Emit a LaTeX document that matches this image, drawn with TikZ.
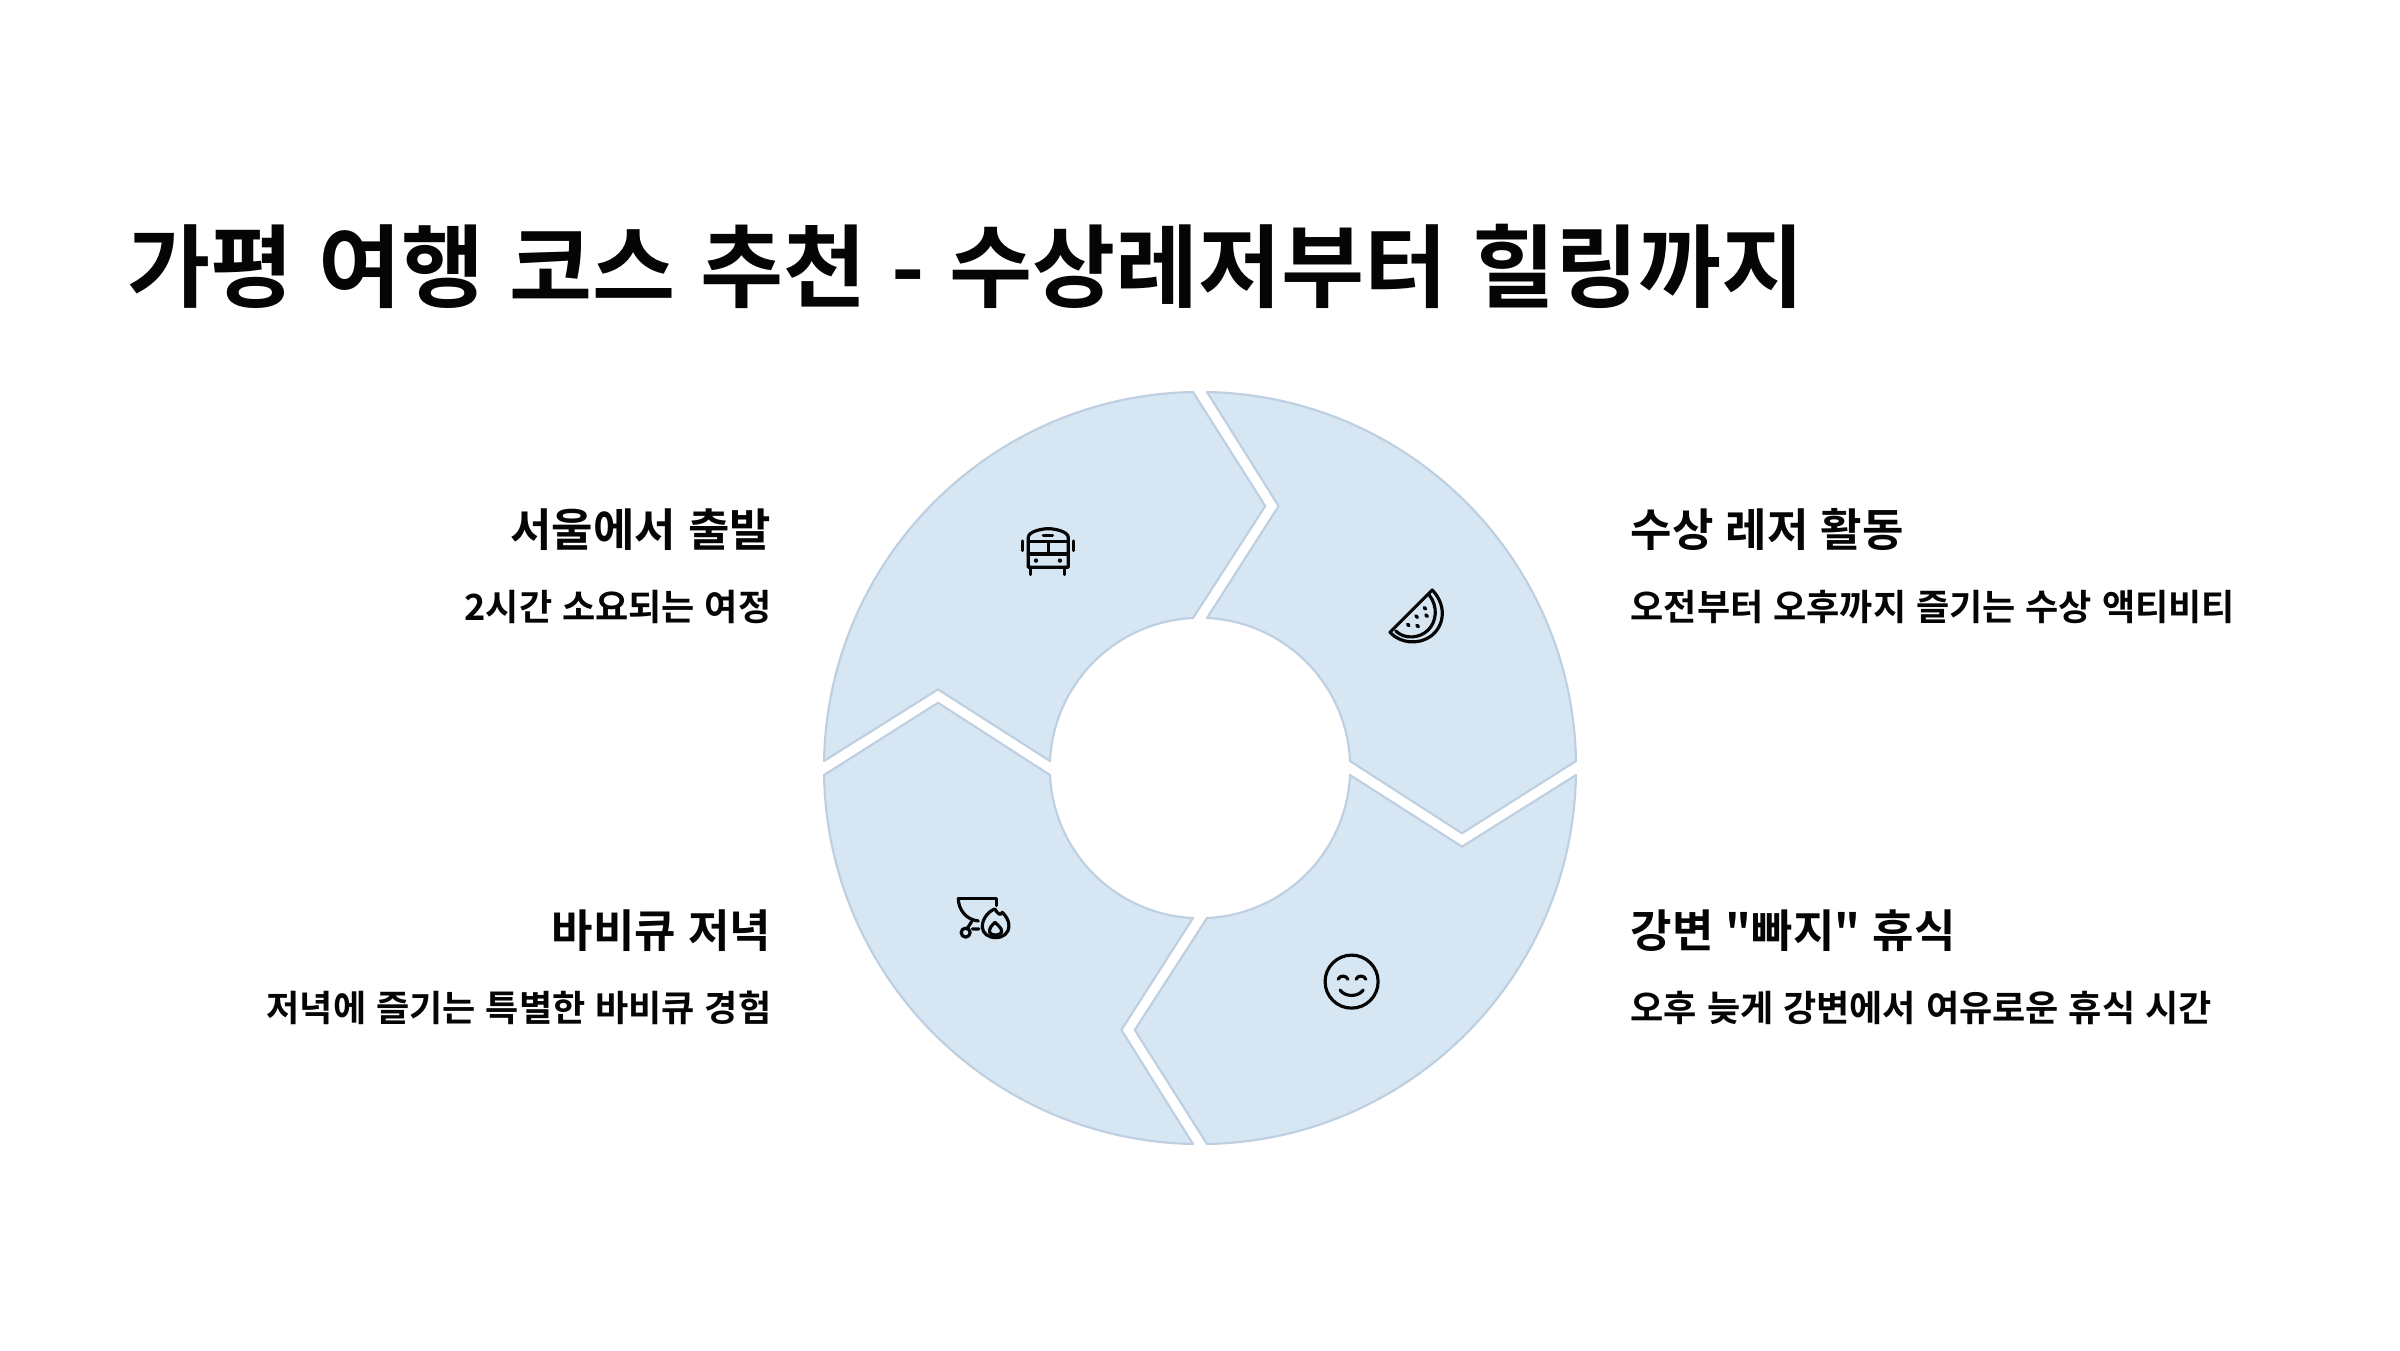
\documentclass[tikz,border=0pt]{standalone}
\usepackage{fontspec}
\setmainfont{Noto Sans CJK KR}[BoldFont={Noto Sans CJK KR Bold},Ligatures=TeXOff,WordSpace=1.2]
\newcommand{\pxfont}[1]{\fontsize{\dimexpr #1\dimexpr 0.2845pt\relax\relax}{\dimexpr #1\dimexpr 0.34pt\relax\relax}\selectfont}
\definecolor{segfill}{HTML}{D6E6F3}
\definecolor{segline}{HTML}{BDCFE0}
\definecolor{ink}{HTML}{050505}
\tikzset{
  seg/.style={fill=segfill,draw=segline,line width=0.6pt,line join=round},
  titletext/.style={font=\bfseries\pxfont{90.3},text=ink,inner sep=0pt,anchor=base west},
  headR/.style={font=\bfseries\pxfont{45},text=ink,inner sep=0pt,anchor=base east},
  headL/.style={font=\bfseries\pxfont{45},text=ink,inner sep=0pt,anchor=base west},
  subR/.style={font=\bfseries\pxfont{36.1},text=ink,inner sep=0pt,anchor=base east},
  subL/.style={font=\bfseries\pxfont{36.1},text=ink,inner sep=0pt,anchor=base west},
  icon/.style={draw=ink,line width=0.9pt,line cap=round,line join=round,fill=none},
  dotk/.style={fill=ink,draw=none}
}
\begin{document}
\begin{tikzpicture}[x=0.01cm,y=0.01cm]
\useasboundingbox (0,0) rectangle (2400,-1350);
\fill[white] (0,0) rectangle (2400,-1350);
\foreach \r in {90,0,-90,-180}{
\begin{scope}[shift={(1200,-768)},rotate=\r]
\draw[seg] (7,376) -- (78.6,262) -- (7,150) arc[start angle=87.33,end angle=2.67,radius=150.16]
  -- (262,-65.3) -- (376,7) arc[start angle=1.07,end angle=88.93,radius=376.07] -- cycle;
\end{scope}}
\node[titletext] (title) at (127,-300) {가평 여행 코스 추천 - 수상레저부터 힐링까지};
\node[headR] (h1) at (772,-546) {서울에서 출발};
\node[subR] (s1) at (772,-620.5) {2시간 소요되는 여정};
\node[headL] (h2) at (1630,-546) {수상 레저 활동};
\node[subL] (s2) at (1630,-620.5) {오전부터 오후까지 즐기는 수상 액티비티};
\node[headR] (h3) at (772,-947) {바비큐 저녁};
\node[subR] (s3) at (772,-1021.5) {저녁에 즐기는 특별한 바비큐 경험};
\node[headL] (h4) at (1630,-947) {강변 "빠지" 휴식};
\node[subL] (s4) at (1630,-1021.5) {오후 늦게 강변에서 여유로운 휴식 시간};
% bus
\begin{scope}[shift={(1000,-510)},x=0.00333cm,y=-0.00333cm]
\draw[icon] (85,172) -- (85,82) .. controls (85,65) and (125,56) .. (145,56) .. controls (165,56) and (205,65) .. (205,82) -- (205,172) -- cycle;
\draw[icon] (85,95) -- (205,95) (85,132) -- (205,132) (145,95) -- (145,132) (130,76) -- (158,76);
\draw[icon] (92,172) -- (92,194) (193,172) -- (193,194) (67,93) -- (67,122) (220,93) -- (220,122);
\fill[dotk] (108,152) circle[radius=0.022cm] (180,152) circle[radius=0.022cm];
\end{scope}
% watermelon
\begin{scope}[shift={(1375,-575)},x=0.00333cm,y=-0.00333cm]
\draw[icon] (45,172) -- (172,45) .. controls (215,90) and (210,150) .. (170,182) .. controls (130,212) and (75,205) .. (45,172) -- cycle;
\draw[icon] (62,168) .. controls (90,195) and (135,190) .. (160,165) .. controls (185,140) and (190,95) .. (163,60);
\foreach \a/\b in {150/100,125/125,155/122,100/150,128/153}{
\draw[icon,line width=1pt] (\a-2,\b-2) -- (\a+2,\b+2);}
\end{scope}
% smile
\begin{scope}[shift={(1310,-940)},x=0.00333cm,y=-0.00333cm]
\draw[icon] (125,125) circle[radius=0.265cm];
\draw[icon] (84,118) .. controls (90,105) and (108,105) .. (114,118);
\draw[icon] (138,118) .. controls (144,105) and (162,105) .. (168,118);
\draw[icon] (90,150) .. controls (105,172) and (145,172) .. (160,150);
\end{scope}
% bbq
\begin{scope}[shift={(945,-885)},x=0.00333cm,y=-0.00333cm]
\draw[icon] (40,40) -- (155,40) -- (155,62);
\draw[icon] (40,40) .. controls (40,75) and (65,105) .. (100,108);
\draw[icon] (80,110) -- (66,132) (82,132) -- (102,132);
\draw[icon] (62,143) circle[radius=0.045cm];
\draw[icon] (150,72) .. controls (132,78) and (112,100) .. (112,125) .. controls (112,145) and (130,158) .. (152,158) .. controls (175,158) and (192,145) .. (192,122) .. controls (192,105) and (182,92) .. (172,82) .. controls (168,92) and (160,90) .. (150,72) -- cycle;
\draw[icon] (150,112) .. controls (140,122) and (132,130) .. (134,142) .. controls (136,152) and (165,154) .. (170,142) .. controls (172,130) and (160,122) .. (150,112) -- cycle;
\end{scope}
\end{tikzpicture}
\end{document}
